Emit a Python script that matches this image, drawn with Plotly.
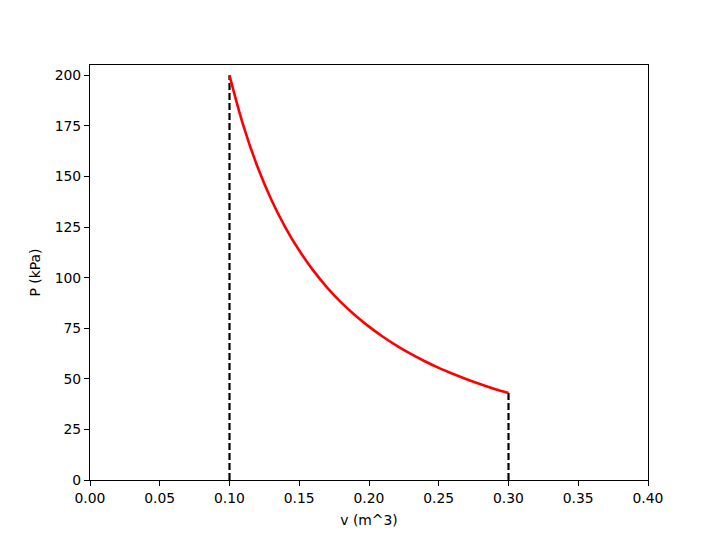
import plotly.graph_objects as go

# Data
v = [0.10, 0.11, 0.12, 0.13, 0.14, 0.15, 0.16, 0.17, 0.18, 0.19, 0.20,
     0.21, 0.22, 0.23, 0.24, 0.25, 0.26, 0.27, 0.28, 0.29, 0.30]
P = [200.0, 175.0, 154.9, 138.5, 124.9, 113.4, 103.6, 95.1, 87.8, 81.4, 75.8,
     70.8, 66.3, 62.3, 58.7, 55.4, 52.5, 49.8, 47.3, 45.0, 43.0]

v1_line = [0.10, 0.10]
P1_line = [0.0, 200.0]
v2_line = [0.30, 0.30]
P2_line = [0.0, 43.0]

x_ticks = [0.00, 0.05, 0.10, 0.15, 0.20, 0.25, 0.30, 0.35, 0.40]
y_ticks = [0, 25, 50, 75, 100, 125, 150, 175, 200]

fig = go.Figure()
dash_style = dict(color="black", width=2.2, dash="7px,3px")
fig.add_trace(go.Scatter(x=v1_line, y=P1_line, mode="lines", line=dash_style, showlegend=False))
fig.add_trace(go.Scatter(x=v2_line, y=P2_line, mode="lines", line=dash_style, showlegend=False))
fig.add_trace(go.Scatter(x=v, y=P, mode="lines", line=dict(color="#ff0000", width=2.6, shape="spline"),
                         showlegend=False))

axis_common = dict(
    showgrid=False, zeroline=False, showline=True, linecolor="black", linewidth=1.1,
    mirror=True, ticks="outside", ticklen=5, tickwidth=1.1, tickcolor="black",
    tickfont=dict(family="DejaVu Sans", size=13.9, color="black"),
)
fig.update_xaxes(range=[0, 0.4], tickvals=x_ticks, ticktext=[f"{t:.2f}" for t in x_ticks],
                 title=dict(text="v (m^3)", standoff=10,
                            font=dict(family="DejaVu Sans", size=13.9, color="black")),
                 **axis_common)
fig.update_yaxes(range=[0, 205.1], tickvals=y_ticks, ticktext=[str(t) for t in y_ticks],
                 title=dict(text="P (kPa)", standoff=10,
                            font=dict(family="DejaVu Sans", size=13.9, color="black")),
                 **axis_common)
fig.update_layout(
    width=712, height=532,
    margin=dict(l=82, r=72, t=57, b=60),
    plot_bgcolor="white", paper_bgcolor="white",
    font=dict(family="DejaVu Sans", color="black"),
)
fig.write_html("out.html")
